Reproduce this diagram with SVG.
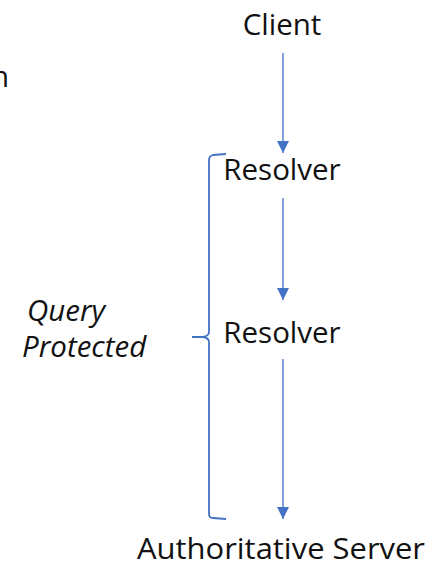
<svg xmlns="http://www.w3.org/2000/svg" width="447" height="565" viewBox="0 0 447 565">
  <defs>
    <marker id="head" viewBox="0 0 12 12" refX="12" refY="6" markerWidth="12" markerHeight="12" markerUnits="userSpaceOnUse" orient="auto">
      <path d="M0,0 L12,6 L0,12 Z" fill="#4472C4"/>
    </marker>
    <style>
      .lbl { font-family: "Open Sans", "Noto Sans", sans-serif; font-size: 29.5px; fill: #111; }
      .it { font-style: italic; }
      .flow { stroke: #4472C4; stroke-width: 1.3; fill: none; }
      .brace { stroke: #4472C4; stroke-width: 1.8; fill: none; stroke-linejoin: round; }
    </style>
  </defs>
  <rect width="447" height="565" fill="#fff"/>

  <text class="lbl" x="9" y="87" text-anchor="end">n</text>

  <g id="client"><text class="lbl" x="282" y="35" text-anchor="middle">Client</text></g>
  <g id="resolver1"><text class="lbl" x="282" y="180" text-anchor="middle">Resolver</text></g>
  <g id="resolver2"><text class="lbl" x="282" y="343" text-anchor="middle">Resolver</text></g>
  <g id="authoritative"><text class="lbl" x="281" y="559" text-anchor="middle" textLength="288" lengthAdjust="spacingAndGlyphs">Authoritative Server</text></g>

  <g id="query-protected">
    <text class="lbl it" x="27" y="321">Query</text>
    <text class="lbl it" x="22" y="357">Protected</text>
    <path class="brace" d="M226,154 L213,155 Q209,156 209,160 L209,332 Q209,336 203,337 L192,337 M203,337 Q209,338 209,342 L209,514 Q209,518 213,518 L226,519"/>
  </g>

  <g id="connectors">
    <line class="flow" x1="283" y1="53" x2="283" y2="153" marker-end="url(#head)"/>
    <line class="flow" x1="283" y1="198" x2="283" y2="300" marker-end="url(#head)"/>
    <line class="flow" x1="283" y1="359" x2="283" y2="519" marker-end="url(#head)"/>
  </g>
</svg>
